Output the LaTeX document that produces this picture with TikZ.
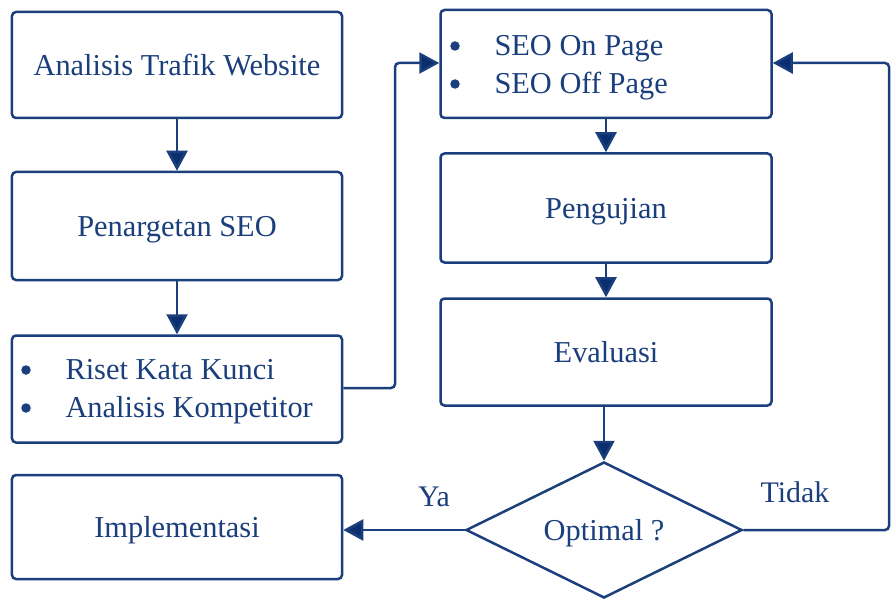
\documentclass[tikz,border=0pt]{standalone}
\usepackage{fontspec}
\setmainfont{Liberation Serif}
\usetikzlibrary{shapes.geometric,arrows.meta,decorations.pathmorphing}
\definecolor{ink}{HTML}{1B3F7C}
\definecolor{tip}{HTML}{0B2E6E}
\begin{document}
\begin{tikzpicture}[x=1bp,y=-1bp,
  every node/.style={text=ink,font=\fontsize{30.5}{36}\selectfont,text depth=0pt},
  box/.style={draw=ink,line width=2.5bp,rounded corners=4bp,minimum width=330bp,inner sep=0pt,fill=white},
  dia/.style={draw=ink,line width=2.5bp,shape=diamond,aspect=2.03,minimum width=276bp,minimum height=136bp,inner sep=0pt},
  conn/.style={draw=ink,line width=2.5bp,rounded corners=4bp,-{Triangle[length=20bp,width=21bp,fill=tip]}},
  dot/.style={circle,fill=ink,draw=none,minimum size=9.5bp,inner sep=0pt},
  lbl/.style={text=ink,font=\fontsize{30}{36}\selectfont}
]
\useasboundingbox (0,0) rectangle (892,601);
\node[box,minimum height=106bp] (b1) at (177,65) {Analisis Trafik Website};
\node[box,minimum height=108bp] (b2) at (177,226) {Penargetan SEO};
\node[box,minimum height=107bp] (b3) at (177,389) {};
\node[box,minimum height=104bp] (b4) at (177,527) {Implementasi};
\node[box,minimum width=331bp,minimum height=108bp] (a1) at (606,64) {};
\node[box,minimum width=331bp,minimum height=109bp] (a2) at (606,208) {Pengujian};
\node[box,minimum width=331bp,minimum height=107bp] (a3) at (606,352) {Evaluasi};
\node[dia] (d) at (604,530) {Optimal ?};
% bullet texts
\node[dot] (u1) at (26,370) {};
\node[dot] (u2) at (26,408) {};
\node[anchor=west] (t1) at (62,369) {Riset Kata Kunci};
\node[anchor=west] (t2) at (62,407) {Analisis Kompetitor};
\node[dot] (v1) at (455,46) {};
\node[dot] (v2) at (455,84) {};
\node[anchor=west] (s1) at (491,45) {SEO On Page};
\node[anchor=west] (s2) at (491,83) {SEO Off Page};
\node[lbl] (ya) at (434,497) {Ya};
\node[lbl] (tidak) at (795,492) {Tidak};
% connectors
\draw[conn] (b1.south) -- (b2.north);
\draw[conn] (b2.south) -- (b3.north);
\coordinate (c1) at (395,388);
\coordinate (c2) at (395,63);
\draw[conn] (b3.east |- c1) -- (c1) -- (c2) -- (a1.west |- c2);
\draw[conn] (a1.south) -- (a2.north);
\draw[conn] (a2.south) -- (a3.north);
\draw[conn] (a3.south -| d.north) -- (d.north);
\draw[conn] (d.west) -- (b4.east |- d.west);
\coordinate (r1) at (889,530);
\coordinate (r2) at (889,63);
\draw[conn] (d.east) -- (r1) -- (r2) -- (a1.east |- r2);
\end{tikzpicture}
\end{document}
